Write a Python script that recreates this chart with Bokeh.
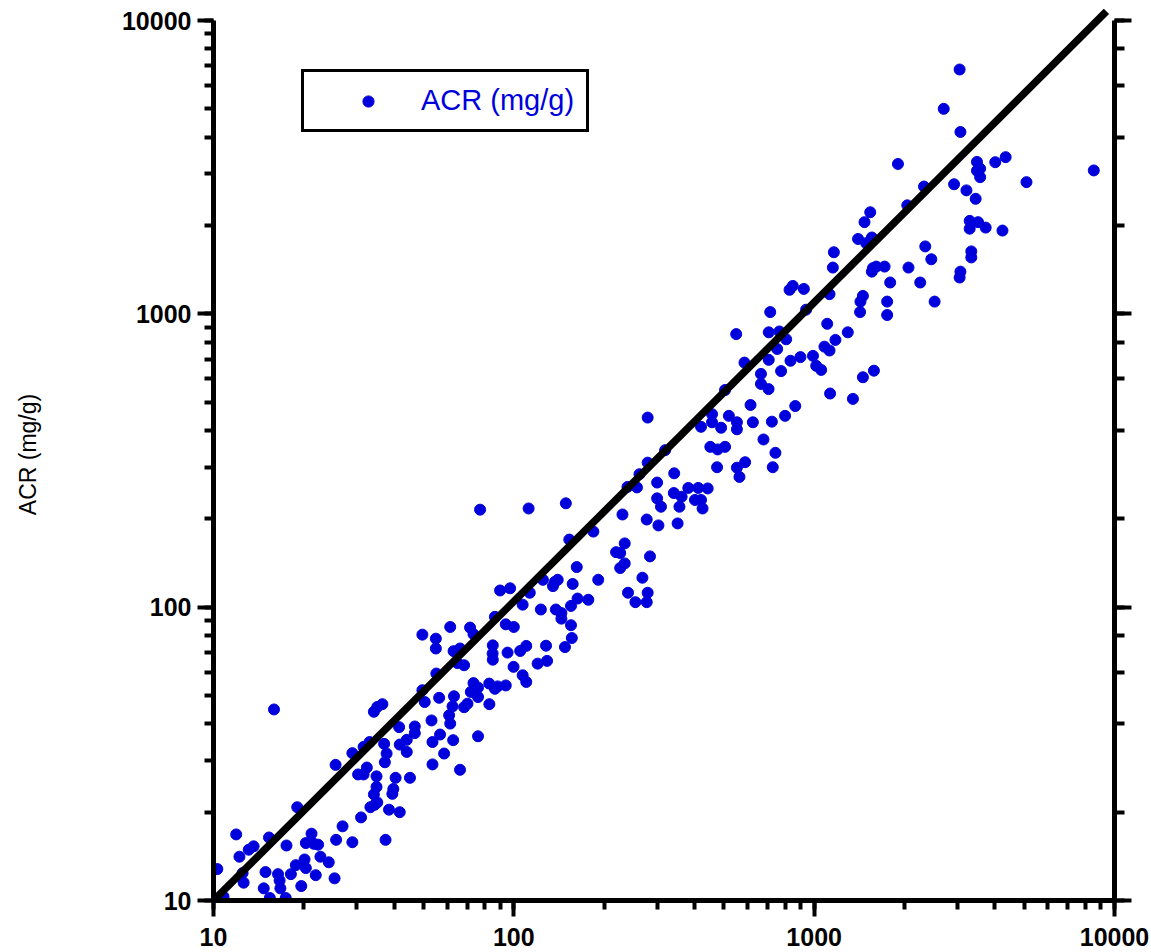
import numpy as np
from bokeh.plotting import figure
from bokeh.models import LogAxis, Range1d, Legend, LegendItem, PrintfTickFormatter
from bokeh.embed import file_html
from bokeh.resources import INLINE

# ---- data ----
acr_x = [
    15.9, 10.3, 10.8, 11.9, 12.2, 12.5, 12.6, 13.1, 13.6, 14.7, 14.9, 15.3, 15.4, 16.4, 16.6, 16.7,
    17.5, 17.4, 18.1, 18.8, 19.0, 19.6, 20.1, 20.3, 20.3, 21.2, 21.6, 22.3, 21.9, 22.7, 24.2, 25.3,
    25.6, 25.5, 26.9, 29.0, 29.0, 31.0, 30.3, 31.6, 32.4, 31.6, 33.1, 34.9, 34.9, 34.2, 33.3, 34.4,
    35.1, 34.2, 35.1, 36.5, 37.0, 37.7, 37.2, 37.4, 38.4, 40.4, 39.7, 39.4, 41.5, 41.7, 41.7,
    77.2, 112, 149, 153, 184, 191, 162, 140, 135, 137, 157, 125, 113, 107, 123, 138, 144, 144, 155,
    163, 177, 155, 156, 148, 128, 129, 120, 110, 105, 95.3, 99.8, 107, 110, 100, 94.0, 90.0, 97.2,
    86.5, 85.1, 85.0, 85.1, 71.5, 73.4, 61.4, 49.6, 55.0, 55.0, 63.0, 66.2, 64.9, 68.3, 55.2, 49.6,
    50.5, 56.4, 63.2, 62.5, 68.3, 70.1, 73.4, 76.0, 76.0, 71.9, 82.8, 86.5, 88.3, 94.0, 82.9, 60.9,
    61.4, 53.2, 46.8, 46.8, 56.8, 53.6, 62.8, 76.0, 58.6, 53.6, 66.2, 44.0, 44.0, 45.1,
    714, 550, 706, 766, 807, 753, 586, 706, 834, 900, 776, 665, 665, 705, 505, 614, 865, 800, 723,
    625, 520, 553, 553, 490, 457, 457, 420, 505, 477, 451, 678, 743, 728, 589, 553, 564, 475, 279,
    319, 279, 262, 239, 257, 342, 300, 341, 300, 309, 356, 362, 381, 411, 442, 401, 420, 425, 230,
    277, 303, 351, 234, 219, 226, 284, 234, 226, 268, 240, 279, 254, 277,
    1901, 2321, 2923, 2042, 1537, 1471, 1400, 1556, 1490, 1163, 1154, 1570, 1556, 1610, 1716, 2061,
    2344, 2455, 1791, 2255, 2518, 1750, 1750, 1453, 1426, 1422, 924, 940, 1125, 1105, 1294, 1177,
    1082, 1125, 991, 1016, 1055, 1581, 1453, 1130, 1346, 849, 828,
    3050, 3069, 2700, 3484, 3570, 3484, 3570, 4009, 4341, 5093, 8531, 3214, 3449, 3295, 3513, 3295,
    3724, 4236, 3336, 3336, 3069, 3050,
]
acr_y = [
    44.8, 12.8, 10.3, 16.8, 14.1, 12.4, 11.5, 14.9, 15.3, 11.0, 12.5, 16.4, 10.2, 12.3, 11.7, 11.0,
    15.4, 10.2, 12.3, 13.2, 20.8, 11.2, 13.8, 12.9, 15.7, 16.9, 15.6, 15.5, 12.2, 14.1, 13.5, 11.9,
    16.1, 29.0, 17.9, 15.8, 31.8, 19.2, 26.9, 26.9, 28.4, 33.4, 34.7, 26.5, 24.4, 23.0, 20.8, 21.2,
    21.6, 44.0, 45.7, 46.7, 34.2, 31.7, 29.6, 16.1, 20.4, 26.2, 24.0, 23.1, 39.0, 34.0, 20.0,
    215, 217, 226, 170, 181, 124, 137, 124, 118, 122, 120, 124, 112, 102, 98.2, 98.2, 95.5, 91.4, 101,
    107, 106, 86.8, 78.5, 73.1, 73.9, 65.6, 64.2, 73.8, 70.9, 70.0, 62.6, 58.6, 55.6, 85.6, 87.4, 114, 116,
    92.7, 74.1, 69.5, 66.2, 85.2, 80.9, 85.6, 80.6, 78.1, 72.3, 70.8, 72.3, 64.5, 63.4, 59.4, 52.1,
    47.5, 49.1, 49.7, 45.9, 45.6, 46.9, 55.1, 53.2, 49.4, 51.4, 54.9, 52.7, 53.7, 54.1, 46.7, 42.8,
    40.1, 41.1, 39.2, 37.2, 36.8, 34.7, 35.2, 36.3, 31.7, 29.1, 27.9, 35.3, 32.1, 26.2,
    1014, 853, 865, 871, 819, 759, 682, 697, 692, 712, 638, 624, 577, 554, 550, 489, 485, 449, 429,
    427, 449, 427, 404, 409, 455, 427, 412, 352, 345, 352, 373, 336, 300, 312, 299, 278, 300, 443,
    343, 311, 284, 257, 256, 286, 266, 245, 235, 220, 220, 238, 255, 255, 254, 232, 232, 217, 207,
    199, 190, 193, 165, 154, 153, 149, 141, 136, 126, 112, 112, 104, 104,
    3243, 2716, 2766, 2344, 2220, 2054, 1800, 1821, 1742, 1622, 1438, 1432, 1393, 1449, 1449, 1438,
    1698, 1535, 1279, 1279, 1101, 1101, 991, 1151, 1101, 1014, 1216, 1033, 1167, 925, 865, 815,
    773, 750, 719, 665, 644, 640, 608, 535, 513, 1245, 1208,
    6808, 4169, 5000, 3296, 3126, 3076, 2924, 3288, 3421, 2812, 3083, 2636, 2468, 2075, 2054, 1951,
    1968, 1923, 1633, 1557, 1393, 1330,
]
fit_x = [10, 9400]
fit_y = [10, 10740]

series_label = "ACR (mg/g)"
y_title = "ACR (mg/g)"

BLUE = "#0000DC"
FONT = "Liberation Sans"

p = figure(width=1151, height=952, x_axis_type="log", y_axis_type="log",
           x_range=Range1d(10, 10000), y_range=Range1d(10, 10990),
           output_backend="svg", toolbar_location=None,
           min_border_left=213, min_border_right=37, min_border_top=8, min_border_bottom=52)
p.outline_line_color = None
p.xgrid.visible = False
p.ygrid.visible = False
p.background_fill_color = "white"
p.border_fill_color = "white"

right_axis = LogAxis()
p.add_layout(right_axis, "right")


def style(ax):
    ax.axis_line_width = 5
    ax.axis_line_color = "black"
    ax.major_tick_line_width = 4
    ax.minor_tick_line_width = 4
    ax.major_tick_line_color = "black"
    ax.minor_tick_line_color = "black"
    ax.major_tick_out = 16
    ax.major_tick_in = 0
    ax.minor_tick_out = 9
    ax.minor_tick_in = 0
    ax.major_label_text_font = FONT
    ax.major_label_text_font_style = "bold"
    ax.major_label_text_font_size = "25px"
    ax.major_label_text_color = "black"
    ax.formatter = PrintfTickFormatter(format="%d")


for ax in [p.xaxis[0], p.yaxis[0], right_axis]:
    style(ax)

yax = p.yaxis[0]
yax.bounds = (10, 10000)
yax.major_label_standoff = 6
yax.axis_label = y_title
yax.axis_label_standoff = 78
yax.axis_label_text_font = FONT
yax.axis_label_text_font_size = "23px"
yax.axis_label_text_font_style = "normal"
yax.axis_label_text_color = "black"

right_axis.bounds = (10, 10000)
right_axis.major_label_text_font_size = "1px"
right_axis.major_label_text_color = None
right_axis.major_label_standoff = 0
right_axis.major_tick_out = 17
right_axis.minor_tick_out = 10
p.xaxis[0].major_label_standoff = 11

r = p.scatter(acr_x, acr_y, size=11, color=BLUE, line_color=BLUE)
p.line(fit_x, fit_y, line_width=7.5, color="black")

legend = Legend(items=[LegendItem(label=series_label, renderers=[r])],
                location=(88, 768), border_line_color="black", border_line_width=3,
                border_line_alpha=1,
                label_text_color=BLUE, label_text_font_size="29px", label_text_font=FONT,
                padding=12, glyph_width=104, glyph_height=28, label_standoff=1, margin=0,
                background_fill_color="white", background_fill_alpha=1)
p.add_layout(legend)

open("out.html", "w").write(file_html(p, INLINE))
